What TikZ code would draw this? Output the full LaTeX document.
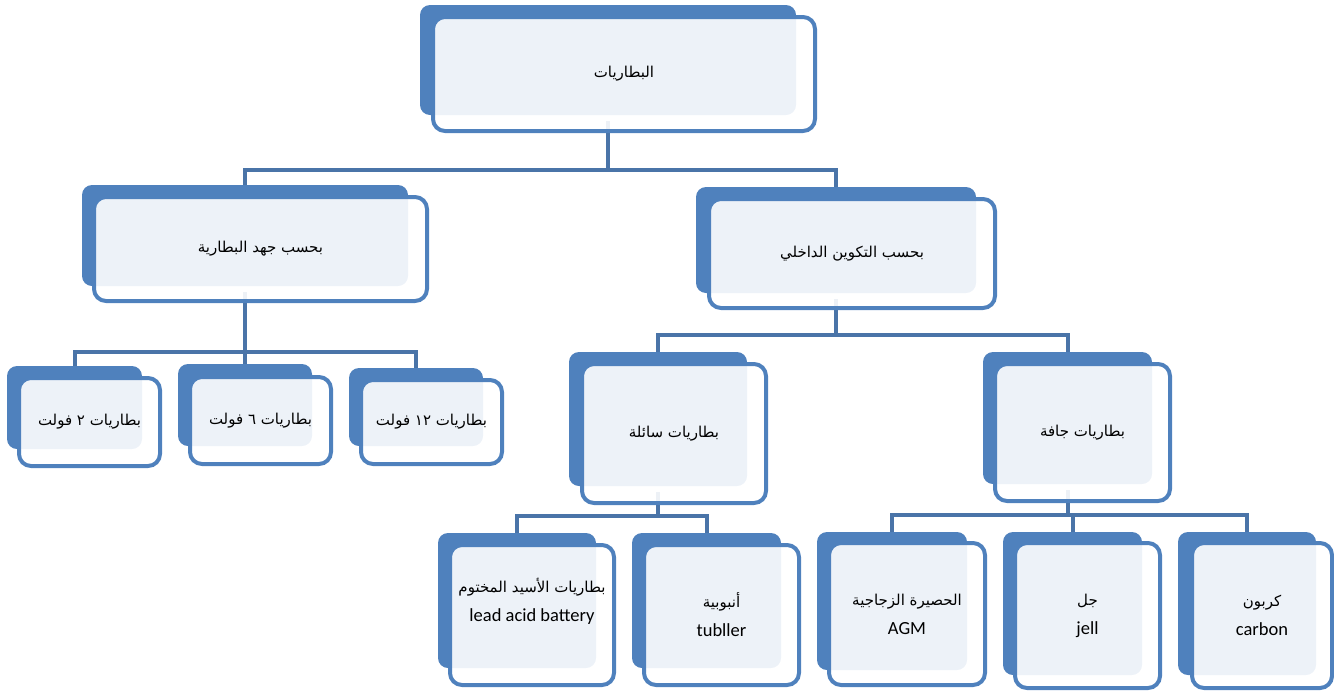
\documentclass[tikz,border=0pt]{standalone}
\usepackage{fontspec}
\setmainfont{Carlito}
\newfontfamily\arabicfont[Script=Arabic]{DejaVu Sans}
\TeXXeTstate=1
\newcommand{\ar}[1]{{\arabicfont\fontsize{15}{29}\selectfont\beginR #1\endR}}
\usepackage{xcolor}
\definecolor{xblue}{HTML}{4F81BD}
\definecolor{xline}{HTML}{4A74A8}
\pgfdeclarelayer{background}
\pgfsetlayers{background,main}
\tikzset{
	backbox/.style={fill=xblue, rounded corners=10pt, inner sep=0pt},
	framebox/.style={draw=xblue, line width=4pt, fill=white, fill opacity=0.9, text opacity=1, rounded corners=12pt, inner sep=0pt, align=center, font=\fontsize{18.5}{29}\selectfont},
	link/.style={xline, line width=4pt},
}

\begin{document}
\begin{tikzpicture}[x=1pt, y=-1pt]
	\useasboundingbox (0,0) rectangle (1334,694);
	% top
	\node[backbox, minimum width=376pt, minimum height=110pt] (bat-b) at (608,60) {};
	\node[framebox, minimum width=382pt, minimum height=114pt] (bat) at (624,74) {\ar{البطاريات}};

	% by voltage
	\node[backbox, minimum width=326pt, minimum height=101pt] (volt-b) at (245,235.5) {};
	\node[framebox, minimum width=333pt, minimum height=104pt] (volt) at (260.5,249) {\ar{بحسب جهد البطارية}};
	\node[backbox, minimum width=135pt, minimum height=83pt] (v2-b) at (74.5,407.5) {};
	\node[framebox, minimum width=141pt, minimum height=88pt] (v2) at (89.5,422) {\ar{بطاريات ٢ فولت}};
	\node[backbox, minimum width=134pt, minimum height=82pt] (v6-b) at (245,405) {};
	\node[framebox, minimum width=141pt, minimum height=87pt] (v6) at (260.5,420.5) {\ar{بطاريات ٦ فولت}};
	\node[backbox, minimum width=134pt, minimum height=78pt] (v12-b) at (416,407) {};
	\node[framebox, minimum width=141pt, minimum height=84pt] (v12) at (431.5,422) {\ar{بطاريات ١٢ فولت}};

	% by build
	\node[backbox, minimum width=280pt, minimum height=106pt] (build-b) at (836,240) {};
	\node[framebox, minimum width=286pt, minimum height=109pt] (build) at (852,253.5) {\ar{بحسب التكوين الداخلي}};
	\node[backbox, minimum width=178pt, minimum height=134pt] (liq-b) at (658,419) {};
	\node[framebox, minimum width=184pt, minimum height=139pt] (liq) at (674,433.5) {\ar{بطاريات سائلة}};
	\node[backbox, minimum width=169pt, minimum height=132pt] (dry-b) at (1067.5,418) {};
	\node[framebox, minimum width=175pt, minimum height=137pt] (dry) at (1082.5,432.5) {\ar{بطاريات جافة}};

	% liquid
	\node[backbox, minimum width=158pt, minimum height=135pt] (lead-b) at (517,600.5) {};
	\node[framebox, minimum width=164pt, minimum height=140pt] (lead) at (532,615) {};
	\node[align=center, font=\fontsize{18.5}{29}\selectfont] (lead-txt) at (532,601) {\ar{بطاريات الأسيد المختوم}\\ lead acid battery};
	\node[backbox, minimum width=149pt, minimum height=135pt] (tub-b) at (706.5,600.5) {};
	\node[framebox, minimum width=155pt, minimum height=140pt] (tub) at (721.5,615) {\ar{أنبوبية}\\ tubller};

	% dry
	\node[backbox, minimum width=150pt, minimum height=138pt] (agm-b) at (892,601) {};
	\node[framebox, minimum width=156pt, minimum height=142pt] (agm) at (907,614) {\ar{الحصيرة الزجاجية}\\ AGM};
	\node[backbox, minimum width=139pt, minimum height=143pt] (jell-b) at (1072.5,603.5) {};
	\node[framebox, minimum width=145pt, minimum height=145pt] (jell) at (1087.5,615.5) {\ar{جل}\\ jell};
	\node[backbox, minimum width=138pt, minimum height=143pt] (carb-b) at (1247,603.5) {};
	\node[framebox, minimum width=140pt, minimum height=145pt] (carb) at (1262,615.5) {\ar{كربون}\\ carbon};

	\begin{pgfonlayer}{background}
		\draw[link] ([yshift=-6pt]bat-b.south) -- ++(0,49) -| (volt-b.north);
		\draw[link] ([yshift=-6pt]bat-b.south) -- ++(0,49) -| (build-b.north);

		\draw[link] ([yshift=-6pt]volt-b.south) -- ++(0,60) -| (v2-b.north);
		\draw[link] ([yshift=-6pt]volt-b.south) -- ++(0,60) -| (v6-b.north);
		\draw[link] ([yshift=-6pt]volt-b.south) -- ++(0,60) -| (v12-b.north);

		\draw[link] ([yshift=-6pt]build-b.south) -- ++(0,36) -| (liq-b.north);
		\draw[link] ([yshift=-6pt]build-b.south) -- ++(0,36) -| (dry-b.north);

		\draw[link] ([yshift=-6pt]liq-b.south) -- ++(0,24) -| (lead-b.north);
		\draw[link] ([yshift=-6pt]liq-b.south) -- ++(0,24) -| (tub-b.north);

		\draw[link] ([yshift=-6pt]dry-b.south) -- ++(0,25) -| (agm-b.north);
		\draw[link] ([yshift=-6pt]dry-b.south) -- ++(0,25) -| (jell-b.north);
		\draw[link] ([yshift=-6pt]dry-b.south) -- ++(0,25) -| (carb-b.north);
	\end{pgfonlayer}
\end{tikzpicture}
\end{document}
